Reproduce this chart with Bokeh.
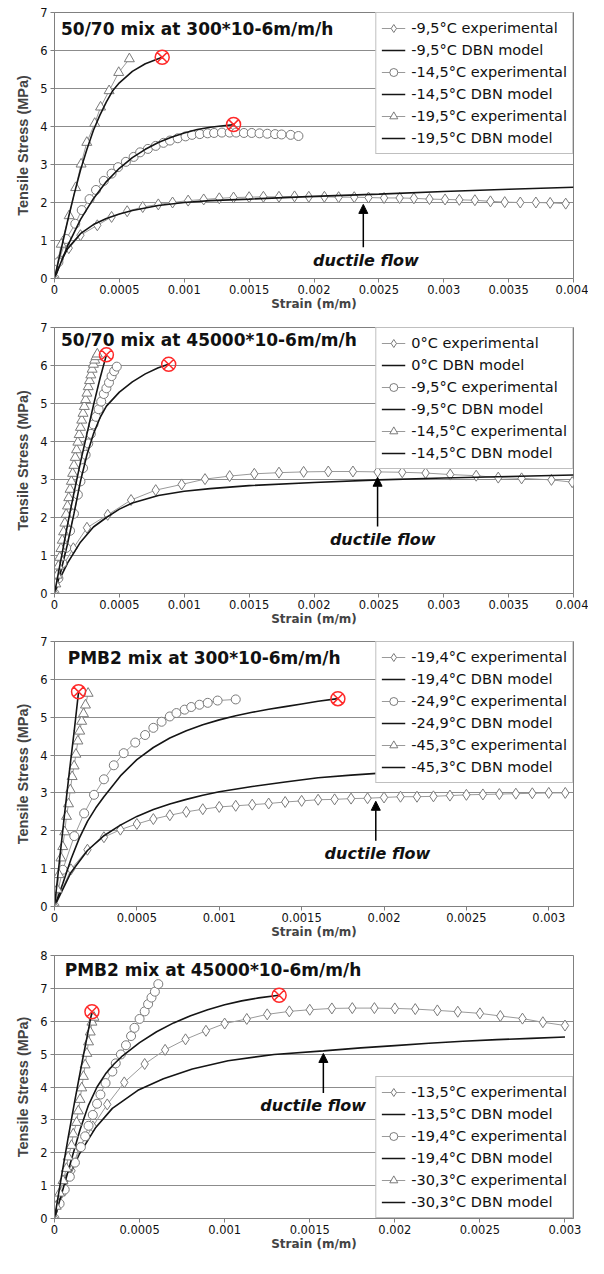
import numpy as np
from bokeh.plotting import figure
from bokeh.layouts import column
from bokeh.models import Range1d, FixedTicker, Legend, LegendItem, Label, Arrow, NormalHead
from bokeh.embed import file_html
from bokeh.resources import INLINE

# ---------------- Panel 1: 50/70 mix at 300*10-6m/m/h ----------------
P1_TITLE = "50/70 mix at 300*10-6m/m/h"
P1_LABELS = ["-9,5°C experimental", "-9,5°C DBN model", "-14,5°C experimental",
             "-14,5°C DBN model", "-19,5°C experimental", "-19,5°C DBN model"]
P1_EXP1_X = [0, 0.00004, 0.00011, 0.0002, 0.00033, 0.00044, 0.00056, 0.00068, 0.0008, 0.00091, 0.00103,
             0.00115, 0.00127, 0.00138, 0.0015, 0.00161, 0.00173, 0.00185, 0.00196, 0.00208, 0.00219,
             0.00231, 0.00242, 0.00254, 0.00266, 0.00277, 0.00289, 0.00301, 0.00312, 0.00324, 0.00336,
             0.00347, 0.00359, 0.00371, 0.00382, 0.00394]
P1_EXP1_Y = [0, 0.5, 0.8, 1.14, 1.4, 1.62, 1.77, 1.88, 1.95, 2.0, 2.05, 2.08, 2.11, 2.13, 2.14, 2.15, 2.15,
             2.16, 2.15, 2.15, 2.14, 2.14, 2.13, 2.12, 2.12, 2.11, 2.09, 2.08, 2.07, 2.06, 2.03, 2.01, 2.0,
             2.0, 1.99, 1.97]
P1_MOD1_X = [0, 0.00005, 0.0001, 0.0002, 0.0003, 0.0004, 0.0005, 0.0006, 0.0008, 0.001, 0.0012, 0.0015,
             0.002, 0.0025, 0.003, 0.0035, 0.004]
P1_MOD1_Y = [0, 0.45, 0.78, 1.18, 1.42, 1.58, 1.7, 1.79, 1.92, 2.0, 2.05, 2.09, 2.16, 2.22, 2.29, 2.35, 2.4]
P1_EXP2_X = [0, 0.00003, 0.00009, 0.00016, 0.00021, 0.00027, 0.00032, 0.00038, 0.00044, 0.00049, 0.00055,
             0.00061, 0.00066, 0.00072, 0.00078, 0.00084, 0.00089, 0.00095, 0.00101, 0.00106, 0.00112,
             0.00118, 0.00123, 0.00129, 0.00135, 0.0014, 0.00146, 0.00152, 0.00158, 0.00164, 0.0017,
             0.00175, 0.00182, 0.00188]
P1_EXP2_Y = [0, 0.43, 1.04, 1.44, 1.8, 2.09, 2.33, 2.57, 2.76, 2.93, 3.07, 3.2, 3.32, 3.41, 3.49, 3.57, 3.63,
             3.69, 3.74, 3.78, 3.8, 3.82, 3.83, 3.84, 3.84, 3.84, 3.83, 3.83, 3.82, 3.81, 3.8, 3.79, 3.78, 3.75]
P1_MOD2_X = [0, 0.0001, 0.0002, 0.0003, 0.0004, 0.0005, 0.0006, 0.0007, 0.0008, 0.0009, 0.001, 0.0011,
             0.0012, 0.0013, 0.00139]
P1_MOD2_Y = [0, 0.85, 1.55, 2.1, 2.55, 2.9, 3.18, 3.4, 3.58, 3.72, 3.83, 3.92, 3.98, 4.02, 4.05]
P1_EXP3_X = [0, 0.000052, 0.000113, 0.000163, 0.000205, 0.000249, 0.00031, 0.000355, 0.000421, 0.000495, 0.000577]
P1_EXP3_Y = [0, 0.9, 1.65, 2.39, 3.01, 3.58, 4.08, 4.51, 4.94, 5.42, 5.78]
P1_MOD3_X = [0, 0.00005, 0.0001, 0.00015, 0.0002, 0.00025, 0.0003, 0.00035, 0.0004, 0.00045, 0.0005,
             0.0006, 0.0007, 0.00083]
P1_MOD3_Y = [0, 0.75, 1.5, 2.2, 2.85, 3.4, 3.9, 4.3, 4.65, 4.95, 5.15, 5.45, 5.65, 5.82]
P1_FAIL_X = [0.00083, 0.00138]
P1_FAIL_Y = [5.82, 4.05]

# ---------------- Panel 2: 50/70 mix at 45000*10-6m/m/h ----------------
P2_TITLE = "50/70 mix at 45000*10-6m/m/h"
P2_LABELS = ["0°C experimental", "0°C DBN model", "-9,5°C experimental",
             "-9,5°C DBN model", "-14,5°C experimental", "-14,5°C DBN model"]
P2_EXP1_X = [0, 0.00003, 0.00007, 0.000145, 0.00025, 0.00041, 0.00059, 0.00078, 0.00098, 0.00116, 0.00135,
             0.00154, 0.00173, 0.00192, 0.00211, 0.0023, 0.00249, 0.00268, 0.00286, 0.00305, 0.00325,
             0.00342, 0.0036, 0.00383, 0.00399]
P2_EXP1_Y = [0, 0.4, 0.76, 1.19, 1.73, 2.07, 2.46, 2.72, 2.87, 3.01, 3.09, 3.15, 3.18, 3.2, 3.21, 3.21, 3.2,
             3.19, 3.17, 3.13, 3.1, 3.05, 3.03, 2.99, 2.93]
P2_MOD1_X = [0, 0.00005, 0.0001, 0.0002, 0.0003, 0.0004, 0.0005, 0.0006, 0.0008, 0.001, 0.0012, 0.0015,
             0.002, 0.0025, 0.003, 0.0035, 0.004]
P2_MOD1_Y = [0, 0.45, 0.8, 1.35, 1.75, 2.0, 2.22, 2.38, 2.58, 2.69, 2.76, 2.84, 2.92, 2.99, 3.04, 3.08, 3.12]
P2_EXP2_X = [0, 0.00003, 0.00006, 0.00009, 0.00012, 0.00015, 0.00018, 0.0002, 0.00022, 0.00024, 0.00026,
             0.00028, 0.0003, 0.00032, 0.00034, 0.00036, 0.00038, 0.0004, 0.00042, 0.00044, 0.00046, 0.00048]
P2_EXP2_Y = [0, 0.4, 0.8, 1.2, 1.65, 2.1, 2.6, 2.95, 3.3, 3.65, 3.95, 4.2, 4.45, 4.65, 4.85, 5.05, 5.25,
             5.4, 5.55, 5.72, 5.85, 5.97]
P2_MOD2_X = [0, 0.00005, 0.0001, 0.00015, 0.0002, 0.00025, 0.0003, 0.00035, 0.0004, 0.0005, 0.0006,
             0.0007, 0.0008, 0.00088]
P2_MOD2_Y = [0, 0.6, 1.3, 2.1, 2.95, 3.65, 4.2, 4.62, 4.93, 5.3, 5.57, 5.78, 5.94, 6.03]
P2_EXP3_X = [0, 0.00001, 0.00002, 0.00003, 0.00004, 0.00005, 0.00006, 0.00007, 0.00008, 0.00009, 0.0001,
             0.00011, 0.00012, 0.00013, 0.00014, 0.00015, 0.00016, 0.00017, 0.00018, 0.00019, 0.0002,
             0.00021, 0.00022, 0.00023, 0.00024, 0.00025, 0.00026, 0.00027, 0.00028, 0.00029, 0.0003,
             0.00031, 0.00032, 0.00033]
P2_EXP3_Y = [0, 0.25, 0.48, 0.72, 0.95, 1.18, 1.4, 1.62, 1.85, 2.08, 2.3, 2.52, 2.74, 2.95, 3.16, 3.37,
             3.58, 3.78, 3.98, 4.18, 4.37, 4.56, 4.74, 4.92, 5.1, 5.27, 5.44, 5.6, 5.75, 5.9, 6.03, 6.14,
             6.23, 6.3]
P2_MOD3_X = [0, 0.00005, 0.0001, 0.00015, 0.0002, 0.00025, 0.0003, 0.00035, 0.0004]
P2_MOD3_Y = [0, 0.9, 1.8, 2.65, 3.45, 4.2, 4.95, 5.65, 6.28]
P2_FAIL_X = [0.0004, 0.00088]
P2_FAIL_Y = [6.28, 6.03]

# ---------------- Panel 3: PMB2 mix at 300*10-6m/m/h ----------------
P3_TITLE = "PMB2 mix at 300*10-6m/m/h"
P3_LABELS = ["-19,4°C experimental", "-19,4°C DBN model", "-24,9°C experimental",
             "-24,9°C DBN model", "-45,3°C experimental", "-45,3°C DBN model"]
P3_EXP1_X = [0, 0.0001, 0.0002, 0.0003, 0.0004, 0.0005, 0.0006, 0.0007, 0.0008, 0.0009, 0.001, 0.0011,
             0.0012, 0.0013, 0.0014, 0.0015, 0.0016, 0.0017, 0.0018, 0.0019, 0.002, 0.0021, 0.0022, 0.0023,
             0.0024, 0.0025, 0.0026, 0.0027, 0.0028, 0.0029, 0.003, 0.0031]
P3_EXP1_Y = [0, 0.98, 1.5, 1.83, 2.03, 2.18, 2.31, 2.41, 2.5, 2.57, 2.63, 2.66, 2.69, 2.72, 2.76, 2.79,
             2.82, 2.83, 2.85, 2.86, 2.88, 2.9, 2.9, 2.91, 2.93, 2.95, 2.96, 2.97, 2.98, 2.99, 3.0, 3.0]
P3_MOD1_X = [0, 0.0001, 0.0002, 0.0003, 0.0004, 0.0005, 0.0006, 0.0007, 0.0008, 0.0009, 0.001, 0.0012,
             0.0014, 0.0016, 0.0018, 0.002, 0.0022, 0.0024, 0.0026, 0.0028, 0.0031]
P3_MOD1_Y = [0, 0.9, 1.48, 1.87, 2.15, 2.38, 2.56, 2.71, 2.83, 2.94, 3.03, 3.17, 3.29, 3.4, 3.47, 3.53,
             3.58, 3.62, 3.66, 3.7, 3.75]
P3_EXP2_X = [0, 0.00005, 0.00012, 0.00018, 0.00024, 0.0003, 0.00036, 0.00042, 0.00049, 0.00055, 0.0006,
             0.00065, 0.0007, 0.00074, 0.00079, 0.00083, 0.00088, 0.00093, 0.00099, 0.0011]
P3_EXP2_Y = [0, 0.97, 1.86, 2.46, 2.95, 3.36, 3.73, 4.05, 4.33, 4.53, 4.72, 4.88, 5.02, 5.11, 5.2, 5.27,
             5.33, 5.38, 5.44, 5.47]
P3_MOD2_X = [0, 0.00005, 0.0001, 0.00015, 0.0002, 0.00025, 0.0003, 0.0004, 0.0005, 0.0006, 0.0007, 0.0008,
             0.0009, 0.001, 0.0011, 0.0012, 0.0013, 0.0014, 0.0015, 0.0016, 0.00172]
P3_MOD2_Y = [0, 0.6, 1.25, 1.8, 2.25, 2.6, 2.9, 3.45, 3.88, 4.2, 4.45, 4.64, 4.8, 4.93, 5.04, 5.13, 5.21,
             5.28, 5.35, 5.42, 5.49]
P3_EXP3_X = [0, 0.000016, 0.000027, 0.000039, 0.00005, 0.000062, 0.000073, 0.000085, 0.000096, 0.000107,
             0.000119, 0.00013, 0.000142, 0.000153, 0.000165, 0.000176, 0.000188, 0.000204]
P3_EXP3_Y = [0, 0.45, 0.84, 1.28, 1.58, 1.97, 2.38, 2.71, 3.08, 3.43, 3.71, 4.02, 4.37, 4.63, 4.89, 5.09,
             5.32, 5.63]
P3_MOD3_X = [0, 0.00003, 0.00006, 0.00009, 0.00012, 0.000146]
P3_MOD3_Y = [0, 1.2, 2.4, 3.55, 4.65, 5.67]
P3_FAIL_X = [0.000146, 0.00172]
P3_FAIL_Y = [5.67, 5.49]

# ---------------- Panel 4: PMB2 mix at 45000*10-6m/m/h ----------------
P4_TITLE = "PMB2 mix at 45000*10-6m/m/h"
P4_LABELS = ["-13,5°C experimental", "-13,5°C DBN model", "-19,4°C experimental",
             "-19,4°C DBN model", "-30,3°C experimental", "-30,3°C DBN model"]
P4_EXP1_X = [0, 0.00003, 0.00006, 0.0001, 0.000145, 0.000225, 0.00031, 0.00041, 0.00053, 0.00065, 0.00077,
             0.00089, 0.001, 0.00113, 0.00125, 0.00138, 0.0015, 0.00163, 0.00175, 0.00188, 0.002, 0.00212,
             0.00225, 0.00237, 0.0025, 0.00262, 0.00275, 0.00287, 0.003]
P4_EXP1_Y = [0, 0.45, 0.85, 1.45, 2.15, 2.8, 3.47, 4.14, 4.7, 5.13, 5.45, 5.71, 5.93, 6.07, 6.21, 6.3, 6.35,
             6.39, 6.4, 6.4, 6.39, 6.37, 6.33, 6.29, 6.24, 6.16, 6.08, 5.97, 5.87]
P4_MOD1_X = [0, 0.00007, 0.000145, 0.00024, 0.00034, 0.00049, 0.00064, 0.00081, 0.00102, 0.00129, 0.00158,
             0.0018, 0.002, 0.0022, 0.0024, 0.0026, 0.0028, 0.003]
P4_MOD1_Y = [0, 1.1, 1.95, 2.75, 3.35, 3.9, 4.25, 4.55, 4.8, 4.99, 5.1, 5.19, 5.26, 5.33, 5.39, 5.44,
             5.48, 5.52]
P4_EXP2_X = [0, 0.00003, 0.00006, 0.00009, 0.00012, 0.000155, 0.00018, 0.0002, 0.000225, 0.00025, 0.00027,
             0.0003, 0.00034, 0.00036, 0.00039, 0.00042, 0.00045, 0.00047, 0.0005, 0.00053, 0.00055,
             0.00057, 0.00059, 0.00061]
P4_EXP2_Y = [0, 0.45, 0.88, 1.27, 1.7, 2.17, 2.5, 2.82, 3.15, 3.49, 3.77, 4.12, 4.47, 4.72, 4.99, 5.27,
             5.55, 5.8, 6.07, 6.3, 6.52, 6.72, 6.9, 7.13]
P4_MOD2_X = [0, 0.00005, 0.0001, 0.00015, 0.0002, 0.00025, 0.0003, 0.00035, 0.0004, 0.0005, 0.0006,
             0.0007, 0.0008, 0.0009, 0.001, 0.0011, 0.0012, 0.00132]
P4_MOD2_Y = [0, 0.9, 1.8, 2.7, 3.45, 4.0, 4.4, 4.7, 4.95, 5.35, 5.68, 5.95, 6.17, 6.35, 6.5, 6.62, 6.71, 6.79]
P4_EXP3_X = [0, 0.00001, 0.00003, 0.00005, 0.00007, 0.00008, 0.0001, 0.00011, 0.00013, 0.00014, 0.00015,
             0.00016, 0.00017, 0.00018, 0.00019, 0.0002, 0.00021, 0.00022, 0.000232]
P4_EXP3_Y = [0, 0.37, 0.77, 1.15, 1.52, 1.87, 2.22, 2.57, 2.92, 3.27, 3.62, 3.97, 4.32, 4.67, 5.02, 5.37,
             5.67, 5.97, 6.12]
P4_MOD3_X = [0, 0.00004, 0.00008, 0.00012, 0.00016, 0.0002, 0.00022]
P4_MOD3_Y = [0, 1.25, 2.45, 3.6, 4.7, 5.75, 6.29]
P4_FAIL_X = [0.00022, 0.00132]
P4_FAIL_Y = [6.29, 6.79]

# ---------------- axis ticks ----------------
XT_004 = [0, 0.0005, 0.001, 0.0015, 0.002, 0.0025, 0.003, 0.0035, 0.004]
XL_004 = ["0", "0.0005", "0.001", "0.0015", "0.002", "0.0025", "0.003", "0.0035", "0.004"]
XT_003 = [0, 0.0005, 0.001, 0.0015, 0.002, 0.0025, 0.003]
XL_003 = ["0", "0.0005", "0.001", "0.0015", "0.002", "0.0025", "0.003"]
YT_7 = [0, 1, 2, 3, 4, 5, 6, 7]
YT_8 = [0, 1, 2, 3, 4, 5, 6, 7, 8]
NOTE = "ductile flow"

GRID = "#8c8c8c"
AXIS = "#808080"
EXP_LINE = "#9a9a9a"
EXP_MARK = "#7a7a7a"
MODEL = "#151515"
FAIL = "#ff2a2a"


def panel(title, title_xy, xmax, ymax, xt, xl, yt, series, fail, labels, arrow, note_xy,
          legend_loc, height, borders):
    top, bottom, left, right = borders
    p = figure(width=588, height=height, output_backend="svg", toolbar_location=None,
               x_range=Range1d(0, xmax), y_range=Range1d(0, ymax),
               min_border_top=top, min_border_bottom=bottom,
               min_border_left=left, min_border_right=right)
    p.background_fill_color = "white"
    p.border_fill_color = "white"
    p.outline_line_color = AXIS
    p.xgrid.visible = False
    p.ygrid.grid_line_color = GRID
    p.ygrid.grid_line_width = 1

    p.xaxis.ticker = FixedTicker(ticks=xt)
    p.xaxis.major_label_overrides = dict(zip(xt, xl))
    p.yaxis.ticker = FixedTicker(ticks=yt)
    for ax in (p.xaxis, p.yaxis):
        ax.axis_line_color = AXIS
        ax.major_tick_line_color = AXIS
        ax.minor_tick_line_color = None
        ax.major_tick_out = 4
        ax.major_tick_in = 0
        ax.major_label_text_font = "DejaVu Sans"
        ax.major_label_text_font_size = "11.5px"
        ax.major_label_text_color = "#111111"
        ax.major_label_standoff = 3
    p.xaxis.major_label_standoff = 2
    p.xaxis.axis_label = "Strain (m/m)"
    p.xaxis.axis_label_text_font = "DejaVu Sans"
    p.xaxis.axis_label_text_font_style = "bold"
    p.xaxis.axis_label_text_font_size = "12px"
    p.xaxis.axis_label_standoff = 0
    p.yaxis.axis_label = "Tensile Stress (MPa)"
    p.yaxis.axis_label_text_font = "Liberation Sans"
    p.yaxis.axis_label_text_font_style = "bold"
    p.yaxis.axis_label_text_font_size = "14.5px"
    p.yaxis.axis_label_standoff = 6

    markers = ["diamond", "circle", "triangle"]
    sizes = [11, 9, 10]
    items = []
    for i, (ex, ey, mx, my) in enumerate(series):
        lr = p.line(ex, ey, line_color=EXP_LINE, line_width=1)
        sr = p.scatter(ex, ey, marker=markers[i], size=sizes[i], line_color=EXP_MARK,
                       fill_color="white", line_width=1)
        mr = p.line(mx, my, line_color=MODEL, line_width=1.6)
        items.append(LegendItem(label=labels[2 * i], renderers=[lr, sr]))
        items.append(LegendItem(label=labels[2 * i + 1], renderers=[mr]))

    p.scatter(fail[0], fail[1], marker="circle_x", size=14, line_color=FAIL,
              fill_color=None, line_width=1.5)

    p.add_layout(Label(x=title_xy[0], y=title_xy[1], text=title, text_font="DejaVu Sans",
                       text_font_style="bold", text_font_size="17px", text_color="#111111",
                       text_baseline="middle", text_align="left"))
    p.add_layout(Arrow(end=NormalHead(size=9, fill_color="black", line_color="black"),
                       x_start=arrow[0], y_start=arrow[1], x_end=arrow[0], y_end=arrow[2],
                       line_color="black", line_width=1.5))
    p.add_layout(Label(x=note_xy[0], y=note_xy[1], text=NOTE, text_font="DejaVu Sans",
                       text_font_style="bold italic", text_font_size="16px", text_color="#111111",
                       text_baseline="middle", text_align="center"))

    legend = Legend(items=items, location=legend_loc, margin=0, padding=5, spacing=2,
                    glyph_width=24, glyph_height=20, label_height=20, label_standoff=6,
                    label_text_font="DejaVu Sans", label_text_font_size="14.5px",
                    label_text_color="#111111",
                    border_line_color=AXIS, border_line_width=1,
                    background_fill_color="white", background_fill_alpha=1.0)
    p.add_layout(legend)
    return p


p1 = panel(P1_TITLE, (0.00005, 6.57), 0.004, 7, XT_004, XL_004, YT_7,
           [(P1_EXP1_X, P1_EXP1_Y, P1_MOD1_X, P1_MOD1_Y),
            (P1_EXP2_X, P1_EXP2_Y, P1_MOD2_X, P1_MOD2_Y),
            (P1_EXP3_X, P1_EXP3_Y, P1_MOD3_X, P1_MOD3_Y)],
           (P1_FAIL_X, P1_FAIL_Y), P1_LABELS, (0.00238, 0.82, 1.95), (0.0024, 0.47),
           "top_right", 318, (12, 40, 48, 15))
p2 = panel(P2_TITLE, (0.00005, 6.66), 0.004, 7, XT_004, XL_004, YT_7,
           [(P2_EXP1_X, P2_EXP1_Y, P2_MOD1_X, P2_MOD1_Y),
            (P2_EXP2_X, P2_EXP2_Y, P2_MOD2_X, P2_MOD2_Y),
            (P2_EXP3_X, P2_EXP3_Y, P2_MOD3_X, P2_MOD3_Y)],
           (P2_FAIL_X, P2_FAIL_Y), P2_LABELS, (0.00249, 1.76, 3.06), (0.00253, 1.41),
           "top_right", 315, (9, 40, 54, 15))
p3 = panel(P3_TITLE, (0.00008, 6.56), 0.00315, 7, XT_003, XL_003, YT_7,
           [(P3_EXP1_X, P3_EXP1_Y, P3_MOD1_X, P3_MOD1_Y),
            (P3_EXP2_X, P3_EXP2_Y, P3_MOD2_X, P3_MOD2_Y),
            (P3_EXP3_X, P3_EXP3_Y, P3_MOD3_X, P3_MOD3_Y)],
           (P3_FAIL_X, P3_FAIL_Y), P3_LABELS, (0.00195, 1.74, 2.78), (0.00196, 1.39),
           "top_right", 315, (8, 42, 51, 8))
p4 = panel(P4_TITLE, (0.00006, 7.57), 0.00305, 8, XT_003, XL_003, YT_8,
           [(P4_EXP1_X, P4_EXP1_Y, P4_MOD1_X, P4_MOD1_Y),
            (P4_EXP2_X, P4_EXP2_Y, P4_MOD2_X, P4_MOD2_Y),
            (P4_EXP3_X, P4_EXP3_Y, P4_MOD3_X, P4_MOD3_Y)],
           (P4_FAIL_X, P4_FAIL_Y), P4_LABELS, (0.00158, 3.82, 5.02), (0.00152, 3.45),
           "bottom_right", 308, (7, 38, 53, 10))

layout = column(p1, p2, p3, p4)
open("out.html", "w").write(file_html(layout, INLINE))
